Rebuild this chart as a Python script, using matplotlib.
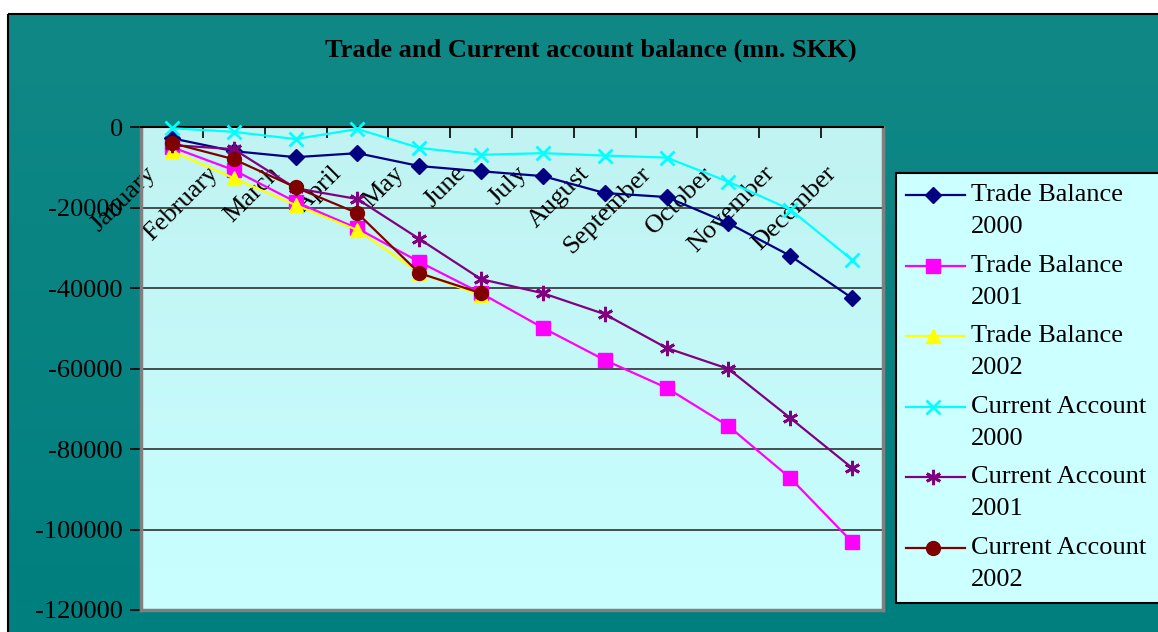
import numpy as np
import matplotlib
matplotlib.use("Agg")
import matplotlib.pyplot as plt
from matplotlib.lines import Line2D
from matplotlib.patches import Rectangle
import matplotlib.transforms as mtransforms

months = ["January", "February", "March", "April", "May", "June", "July",
          "August", "September", "October", "November", "December"]

tb_2000 = [-2800, -6000, -7500, -6500, -9700, -11000, -12200, -16400, -17400, -23900, -32000, -42500]
tb_2001 = [-5000, -10700, -18600, -25200, -33500, -41300, -49900, -57900, -64800, -74300, -87200, -103100]
tb_2002 = [-6000, -12700, -19400, -25600, -36200, -41800]
ca_2000 = [-300, -1200, -3000, -500, -5200, -6900, -6500, -7100, -7600, -13600, -20500, -33000]
ca_2001 = [-4500, -5500, -15200, -17900, -27800, -37800, -41300, -46500, -54900, -60100, -72300, -84700]
ca_2002 = [-4000, -8000, -15000, -21400, -36300, -41300]

series = [
    ("Trade Balance\n2000", tb_2000, "#000080", "D", 8, "#000080"),
    ("Trade Balance\n2001", tb_2001, "#FF00FF", "s", 10, "#FF00FF"),
    ("Trade Balance\n2002", tb_2002, "#FFFF00", "^", 10, "#FFFF00"),
    ("Current Account\n2000", ca_2000, "#00FFFF", "x", 10, "#00FFFF"),
    ("Current Account\n2001", ca_2001, "#800080", (6, 2, 0), 11, "#800080"),
    ("Current Account\n2002", ca_2002, "#800000", "o", 10, "#800000"),
]

yticks = [0, -20000, -40000, -60000, -80000, -100000, -120000]

W, H = 1158, 632
fig = plt.figure(figsize=(W / 100, H / 100), dpi=100)
fig.patch.set_facecolor("white")

def fx(px):
    return px / W

def fy(py):
    return 1 - py / H

SERIF = "Liberation Serif"

# teal background with gradient
bg = fig.add_axes([0, 0, 1, 1], zorder=-10)
bg.set_xlim(0, W)
bg.set_ylim(H, 0)
bg.axis("off")
top_c = np.array([0x10, 0x88, 0x86]) / 255
bot_c = np.array([0x00, 0x7F, 0x7F]) / 255
t = np.linspace(0, 1, 200)[:, None, None]
grad = top_c * (1 - t) + bot_c * t
grad = np.repeat(grad, 2, axis=1)
bg.imshow(grad, extent=[8, W + 5, H + 5, 14], aspect="auto", zorder=0)
bg.add_patch(Rectangle((8, 14), W, H, fill=False, edgecolor="black", lw=1.5, zorder=1))

# plot area
L, R, T, B = 141, 883, 127, 610
ax = fig.add_axes([fx(L), fy(B), fx(R - L), (B - T) / H])
ax.set_xlim(-0.5, 11.5)
ax.set_ylim(-120000, 0)

pa_top = np.array([0xC0, 0xF3, 0xF2]) / 255
pa_bot = np.array([0xC9, 0xFF, 0xFF]) / 255
g2 = pa_top * (1 - t) + pa_bot * t
g2 = np.repeat(g2, 2, axis=1)
ax.imshow(g2, extent=[-0.5, 11.5, -120000, 0], aspect="auto", zorder=0)

ax.set_axisbelow(True)
for v in yticks[1:-1]:
    ax.axhline(v, color="#303030", lw=1.2, zorder=0.6)

ax.set_yticks(yticks)
ax.set_yticklabels([str(v) for v in yticks], fontfamily=SERIF, fontsize=19)
ax.tick_params(axis="y", direction="out", length=8, width=1.2, pad=5, color="black")

ax.set_xticks(np.arange(0.5, 11.5, 1.0))
ax.set_xticklabels([])
ax.xaxis.set_ticks_position("top")
ax.tick_params(axis="x", direction="in", length=8, width=1.2, color="black")

for s in ["left", "right", "bottom"]:
    ax.spines[s].set_color("#808080")
    ax.spines[s].set_linewidth(2.5)
ax.spines["top"].set_color("black")
ax.spines["top"].set_linewidth(1.5)

# month labels inside plot area
off = mtransforms.ScaledTranslation(-19 / 100, -43 / 100, fig.dpi_scale_trans)
trans = mtransforms.blended_transform_factory(ax.transData, ax.transAxes) + off
for i, m in enumerate(months):
    ax.text(i, 1, m, rotation=45, rotation_mode="anchor", ha="right", va="center",
            fontfamily=SERIF, fontsize=19, transform=trans, zorder=1)

for label, vals, col, mk, ms, mfc in series:
    x = np.arange(len(vals))
    ax.plot(x, vals, color=col, lw=1.6, marker=mk, markersize=ms,
            markerfacecolor=mfc, markeredgecolor=col,
            markeredgewidth=2 if mk in ("x", (6, 2, 0)) else 1,
            zorder=3, clip_on=False)

# title
fig.text(fx(591), fy(50), "Trade and Current account balance (mn. SKK)", ha="center", va="center",
         fontfamily=SERIF, fontweight="bold", fontsize=19)

# legend (manual)
lg = fig.add_axes([0, 0, 1, 1], zorder=5)
lg.set_xlim(0, W)
lg.set_ylim(H, 0)
lg.axis("off")
lg.add_patch(Rectangle((896, 173), 400, 430, facecolor="#CCFFFF", edgecolor="black", lw=1.5))
for i, (label, vals, col, mk, ms, mfc) in enumerate(series):
    yc = 195 + i * 70.6
    lg.add_line(Line2D([906, 965], [yc, yc], color=col, lw=1.6))
    lg.add_line(Line2D([933], [yc], marker=mk, markersize=ms, color=col, markerfacecolor=mfc,
                       markeredgecolor=col, markeredgewidth=2 if mk in ("x", (6, 2, 0)) else 1))
    l1, l2 = label.split("\n")
    lg.text(971, yc, l1, ha="left", va="center", fontfamily=SERIF, fontsize=19)
    lg.text(971, yc + 32, l2, ha="left", va="center", fontfamily=SERIF, fontsize=19)

fig.savefig("out.png", dpi=100)
